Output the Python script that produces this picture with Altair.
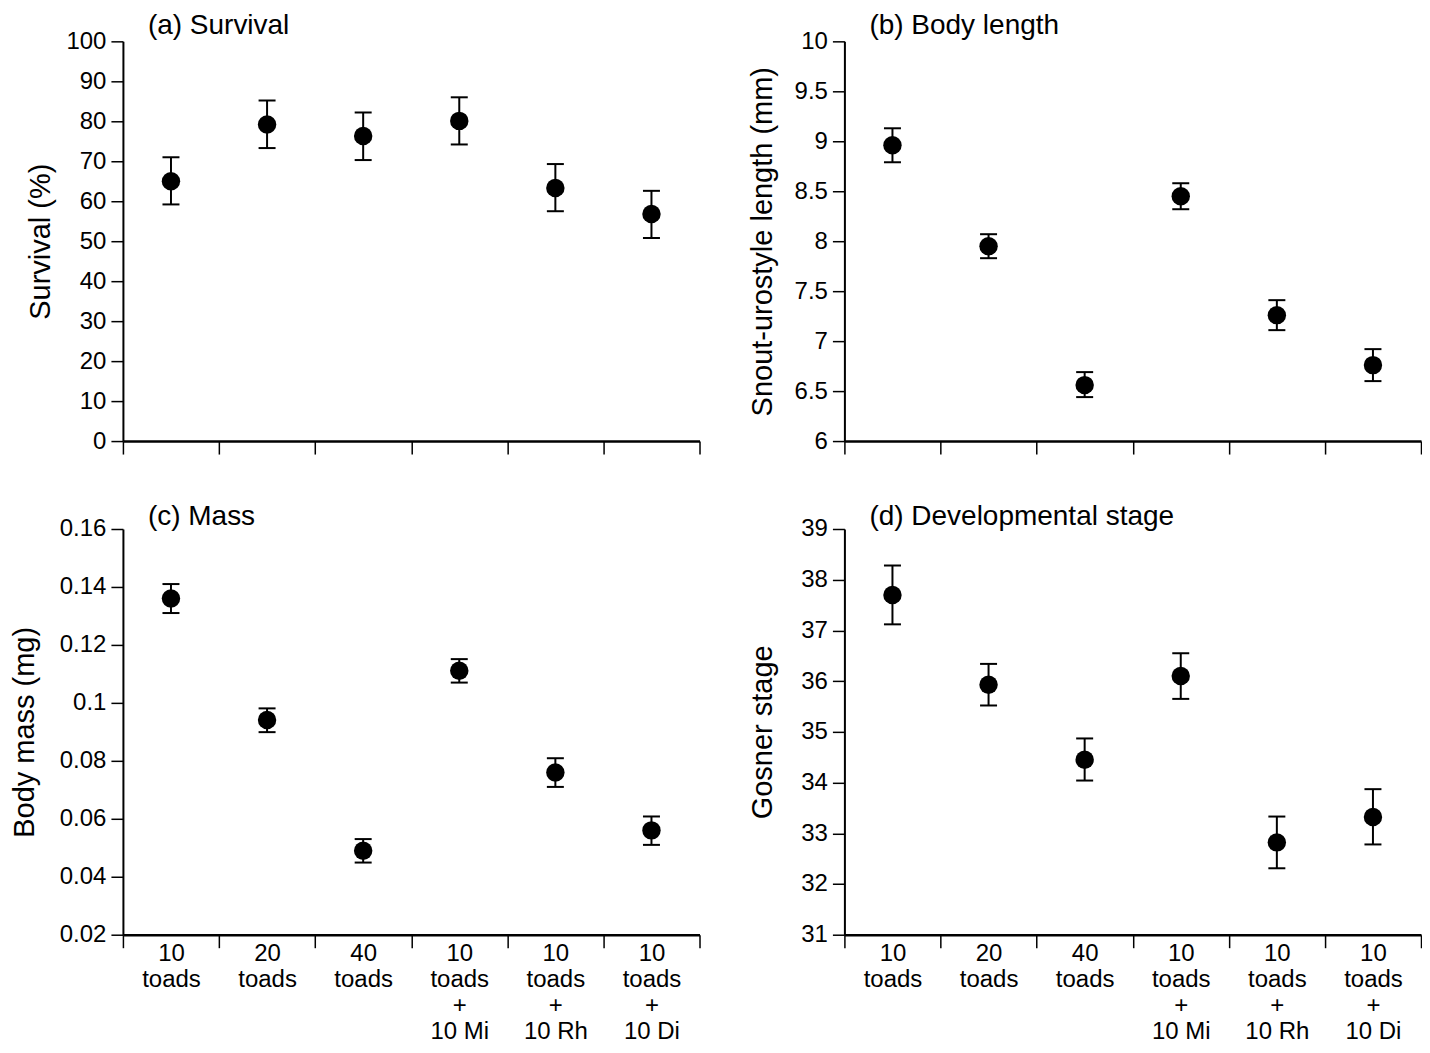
import altair as alt
import pandas as pd

FONT = "Liberation Sans"

categories = ["10|toads", "20|toads", "40|toads",
              "10|toads|+|10 Mi", "10|toads|+|10 Rh", "10|toads|+|10 Di"]

survival = [65.0, 79.2, 76.3, 80.1, 63.3, 56.8]
survival_lo = [59.2, 73.3, 70.3, 74.2, 57.5, 50.8]
survival_hi = [71.0, 85.2, 82.2, 86.0, 69.3, 62.6]

length = [8.96, 7.95, 6.56, 8.45, 7.26, 6.76]
length_lo = [8.79, 7.83, 6.44, 8.32, 7.11, 6.60]
length_hi = [9.13, 8.07, 6.69, 8.58, 7.41, 6.92]

mass = [0.136, 0.0941, 0.049, 0.1111, 0.076, 0.056]
mass_lo = [0.131, 0.0899, 0.0449, 0.107, 0.071, 0.051]
mass_hi = [0.141, 0.0981, 0.053, 0.1151, 0.0809, 0.0608]

stage = [37.70, 35.93, 34.45, 36.10, 32.82, 33.32]
stage_lo = [37.12, 35.52, 34.04, 35.65, 32.31, 32.78]
stage_hi = [38.28, 36.34, 34.87, 36.55, 33.33, 33.87]

survival_ticks = [0, 10, 20, 30, 40, 50, 60, 70, 80, 90, 100]
length_ticks = [6, 6.5, 7, 7.5, 8, 8.5, 9, 9.5, 10]
mass_ticks = [0.02, 0.04, 0.06, 0.08, 0.1, 0.12, 0.14, 0.16]
stage_ticks = [31, 32, 33, 34, 35, 36, 37, 38, 39]


def panel(vals, lo, hi, title, ytitle, ticks, height, show_labels, title_x, title_dy):
    df = pd.DataFrame({"cat": categories, "v": vals, "lo": lo, "hi": hi})
    xaxis = alt.Axis(
        title=None, labels=show_labels, labelExpr="split(datum.label, '|')",
        tickBand="extent", tickSize=13, tickWidth=1.5, tickColor="black",
        domainWidth=2.5, domainColor="black", labelFontSize=24, labelFont=FONT,
        labelColor="black", labelPadding=-6, labelLineHeight=26, labelAngle=0,
        labelBaseline="top", grid=False,
    )
    yaxis = alt.Axis(
        values=ticks, labelExpr="'' + datum.value", tickSize=12, tickWidth=1.5,
        tickColor="black", domainWidth=2, domainColor="black", labelFontSize=24,
        labelFont=FONT, labelColor="black", labelPadding=5, grid=False,
        title=ytitle, titleFontSize=29, titleFont=FONT, titleFontWeight="normal",
        titleColor="black", titleX=title_x,
    )
    yscale = alt.Scale(domain=[ticks[0], ticks[-1]], nice=False, zero=False)
    x = alt.X("cat:N", sort=categories,
              scale=alt.Scale(paddingInner=0, paddingOuter=0), axis=xaxis)
    base = alt.Chart(df).encode(x=x)
    rule = base.mark_rule(strokeWidth=2, color="black").encode(
        y=alt.Y("lo:Q", scale=yscale, axis=yaxis), y2="hi:Q")
    cap_lo = base.mark_tick(size=17, thickness=2, color="black", opacity=1).encode(
        y=alt.Y("lo:Q", scale=yscale, axis=yaxis))
    cap_hi = base.mark_tick(size=17, thickness=2, color="black", opacity=1).encode(
        y=alt.Y("hi:Q", scale=yscale, axis=yaxis))
    pts = base.mark_circle(size=340, color="black", opacity=1).encode(
        y=alt.Y("v:Q", scale=yscale, axis=yaxis))
    ttl = alt.Chart(pd.DataFrame({"t": [title]})).mark_text(
        align="left", baseline="alphabetic", fontSize=28, font=FONT, color="black"
    ).encode(text="t:N", x=alt.value(25), y=alt.value(title_dy))
    return alt.layer(rule, cap_lo, cap_hi, pts, ttl).properties(width=577, height=height)


a = panel(survival, survival_lo, survival_hi, "(a) Survival", "Survival (%)",
          survival_ticks, 400, False, -67, -7)
b = panel(length, length_lo, length_hi, "(b) Body length", "Snout-urostyle length (mm)",
          length_ticks, 400, False, -67, -7)
c = panel(mass, mass_lo, mass_hi, "(c) Mass", "Body mass (mg)",
          mass_ticks, 406, True, -83, -4)
d = panel(stage, stage_lo, stage_hi, "(d) Developmental stage", "Gosner stage",
          stage_ticks, 406, True, -67, -4)

chart = alt.concat(a, b, c, d, columns=2).properties(
    spacing={"row": 88, "column": 145},
    bounds="flush",
    padding={"left": 3, "top": 4, "right": 0, "bottom": 0},
).configure_view(strokeWidth=0)

chart.save("out.html", embed_options={"renderer": "svg", "actions": False})
